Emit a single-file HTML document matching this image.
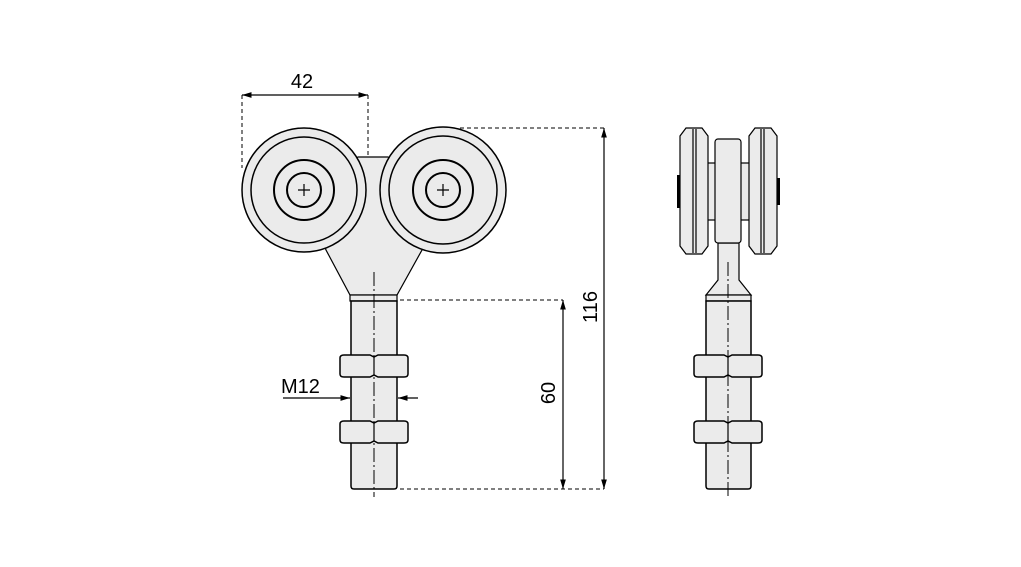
<!DOCTYPE html>
<html><head><meta charset="utf-8"><style>html,body{margin:0;padding:0;background:#fff;}svg{display:block}</style></head><body>
<svg width="1021" height="567" viewBox="0 0 1021 567" xmlns="http://www.w3.org/2000/svg">
<defs>
<marker id="a" viewBox="0 0 10 10" refX="10" refY="5" markerWidth="8" markerHeight="8" orient="auto-start-reverse"><path d="M0,2 L10,5 L0,8 Z" fill="#000"/></marker>
<g id="nut">
<path d="M-34,3 Q-34,0 -30,0 L-4,0 L0,2 L4,0 L30,0 Q34,0 34,3 L34,19 Q34,22 30,22 L4,22 L0,20 L-4,22 L-30,22 Q-34,22 -34,19 Z" fill="#ebebeb" stroke="#000" stroke-width="1.5"/>
<line x1="0" y1="2" x2="0" y2="20" stroke="#000" stroke-width="1.2"/>
</g>
</defs>
<g font-family="Liberation Sans, Arial, sans-serif" font-size="20" fill="#000">
<line x1="242" y1="95" x2="368" y2="95" stroke="#000" stroke-width="1.2" marker-start="url(#a)" marker-end="url(#a)"/>
<line x1="242" y1="95" x2="242" y2="168" stroke="#000" stroke-dasharray="4,3"/>
<line x1="368" y1="95" x2="368" y2="172" stroke="#000" stroke-dasharray="4,3"/>
<text x="302" y="88" text-anchor="middle">42</text>
<line x1="460" y1="128" x2="604" y2="128" stroke="#000" stroke-dasharray="4,3"/>
<line x1="400" y1="489" x2="604" y2="489" stroke="#000" stroke-dasharray="4,3"/>
<line x1="400" y1="300" x2="563" y2="300" stroke="#000" stroke-dasharray="4,3"/>
<line x1="604" y1="128" x2="604" y2="489" stroke="#000" stroke-width="1.2" marker-start="url(#a)" marker-end="url(#a)"/>
<line x1="563" y1="300" x2="563" y2="489" stroke="#000" stroke-width="1.2" marker-start="url(#a)" marker-end="url(#a)"/>
<text transform="translate(597,307) rotate(-90)" text-anchor="middle">116</text>
<text transform="translate(555,393) rotate(-90)" text-anchor="middle">60</text>
<text x="281" y="393">M12</text>
<line x1="283" y1="398" x2="350" y2="398" stroke="#000" stroke-width="1.2" marker-end="url(#a)"/>
<line x1="418" y1="398" x2="398" y2="398" stroke="#000" stroke-width="1.2" marker-end="url(#a)"/>

<path d="M358,157 L388,157 L443,190 L422,250 L397,295 L350,295 L326,250 L304,190 Z" fill="#ebebeb" stroke="#000" stroke-width="1.2"/>
<rect x="350" y="295" width="47" height="6" fill="#ebebeb" stroke="#000" stroke-width="1.2"/>
<path d="M351,301 L351,486 Q351,489 354,489 L394,489 Q397,489 397,486 L397,301 Z" fill="#ebebeb" stroke="#000" stroke-width="1.5"/>
<use href="#nut" x="374" y="355"/>
<use href="#nut" x="374" y="421"/>
<g fill="#ebebeb" stroke="#000" stroke-width="1.5">
<circle cx="304" cy="190" r="62"/><circle cx="304" cy="190" r="53"/><circle cx="304" cy="190" r="30" stroke-width="2"/><circle cx="304" cy="190" r="17" stroke-width="2"/>
<circle cx="443" cy="190" r="63"/><circle cx="443" cy="190" r="54"/><circle cx="443" cy="190" r="30" stroke-width="2"/><circle cx="443" cy="190" r="17" stroke-width="2"/>
</g>
<path d="M304,184 V196 M298,190 H310 M443,184 V196 M437,190 H449" stroke="#000" stroke-width="1.2"/>
<line x1="374" y1="272" x2="374" y2="497" stroke="#000" stroke-width="1" stroke-dasharray="14,3,2,3"/>

<path d="M718,243 L739,243 L739,280 L751,295 L706,295 L718,280 Z" fill="#ebebeb" stroke="#000" stroke-width="1.2"/>
<rect x="706" y="295" width="45" height="6" fill="#ebebeb" stroke="#000" stroke-width="1.2"/>
<path d="M706,301 L706,486 Q706,489 709,489 L748,489 Q751,489 751,486 L751,301 Z" fill="#ebebeb" stroke="#000" stroke-width="1.5"/>
<use href="#nut" x="728" y="355"/>
<use href="#nut" x="728" y="421"/>
<rect x="706" y="163" width="45" height="57" fill="#ebebeb" stroke="#000" stroke-width="1.2"/>
<rect x="677" y="175" width="3" height="33" fill="#000"/>
<rect x="777" y="178" width="3" height="27" fill="#000"/>
<path d="M686,128 L702,128 L708,136 L708,246 L702,254 L686,254 L680,246 L680,136 Z" fill="#ebebeb" stroke="#000" stroke-width="1.2"/>
<path d="M755,128 L771,128 L777,136 L777,246 L771,254 L755,254 L749,246 L749,136 Z" fill="#ebebeb" stroke="#000" stroke-width="1.2"/>
<path d="M693,129 V253 M696,129 V253 M761,129 V253 M764,129 V253" stroke="#000" stroke-width="1.2"/>
<rect x="715" y="139" width="26" height="104" rx="3" fill="#ebebeb" stroke="#000" stroke-width="1.2"/>
<line x1="728" y1="262" x2="728" y2="497" stroke="#000" stroke-width="1" stroke-dasharray="14,3,2,3"/>
</g>
</svg>
</body></html>
